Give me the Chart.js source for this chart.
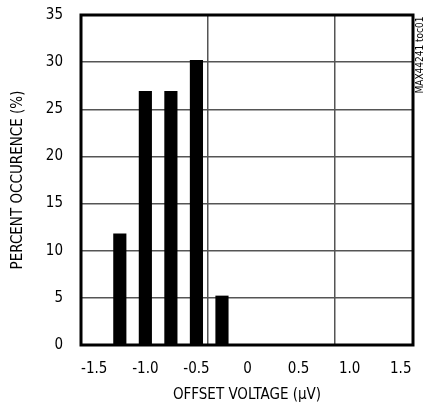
<!DOCTYPE html>
<html>
<head>
<meta charset="utf-8">
<script src="https://cdn.jsdelivr.net/npm/chart.js@4.4.0/dist/chart.umd.min.js"></script>
<style>
  html, body { margin: 0; padding: 0; background: #fff; }
  #wrap { width: 425px; height: 408px; }
</style>
</head>
<body>
<div id="wrap"><canvas id="c" width="425" height="408"></canvas></div>
<script>
// Data
const binCenters = [-1.25, -1.0, -0.75, -0.5, -0.25];          // offset voltage (µV)
const percentOccurrence = [11.8, 26.9, 26.9, 30.2, 5.2];       // percent
const xTickValues = [-1.5, -1.0, -0.5, 0, 0.5, 1.0, 1.5];
const xTickLabels = ['-1.5', '-1.0', '-0.5', '0', '0.5', '1.0', '1.5'];
const yTickValues = [0, 5, 10, 15, 20, 25, 30, 35];

const FONT = "'Liberation Sans Narrow', 'DejaVu Sans Condensed', 'Liberation Sans', sans-serif";
const GRID = '#555555';

const frame = {
  id: 'frame',
  afterDatasetsDraw(chart) {
    const { ctx, chartArea: a } = chart;
    ctx.save();
    ctx.strokeStyle = '#000';
    ctx.lineWidth = 3;
    ctx.strokeRect(a.left, a.top, a.right - a.left, a.bottom - a.top);
    ctx.restore();
  },
  afterDraw(chart) {
    const { ctx } = chart;
    ctx.save();
    ctx.translate(420, 55);
    ctx.rotate(-Math.PI / 2);
    ctx.font = "10px " + FONT;
    ctx.fillStyle = '#000';
    ctx.textAlign = 'center';
    ctx.textBaseline = 'middle';
    ctx.fillText('MAX44241 toc01', 0, 0);
    ctx.restore();
  }
};

new Chart(document.getElementById('c'), {
  type: 'bar',
  data: {
    datasets: [{
      data: binCenters.map((x, i) => ({ x: x, y: percentOccurrence[i] })),
      backgroundColor: '#000',
      borderWidth: 0,
      barThickness: 12.5
    }]
  },
  plugins: [frame],
  options: {
    responsive: false,
    animation: false,
    layout: { padding: { left: 9, right: 12, top: 15, bottom: 4 } },
    plugins: { legend: { display: false }, tooltip: { enabled: false } },
    scales: {
      x: {
        type: 'linear',
        offset: false,
        min: -1.63,
        max: 1.62,
        afterBuildTicks: s => { s.ticks = xTickValues.map(v => ({ value: v })); },
        afterFit: s => { s.height = 59; s.paddingLeft = 0; s.paddingRight = 0; },
        ticks: {
          color: '#000',
          font: { family: FONT, size: 15 },
          padding: 15,
          maxRotation: 0,
          autoSkip: false,
          callback: (v, i) => xTickLabels[i]
        },
        grid: { display: false, drawTicks: false, offset: false },
        border: { display: false },
        title: {
          display: true,
          text: 'OFFSET VOLTAGE (µV)',
          color: '#000',
          font: { family: FONT, size: 15 },
          padding: 0
        }
      },
      xg: {
        type: 'linear',
        position: 'top',
        offset: false,
        min: 0,
        max: 332 / 127,
        afterBuildTicks: s => { s.ticks = [{ value: 1 }, { value: 2 }]; },
        afterFit: s => { s.height = 0; s.paddingLeft = 0; s.paddingRight = 0; },
        ticks: { display: false },
        grid: { color: GRID, lineWidth: 1.5, drawTicks: false, offset: false },
        border: { display: false }
      },
      y: {
        min: 0,
        max: 35,
        afterBuildTicks: s => { s.ticks = yTickValues.map(v => ({ value: v })); },
        afterFit: s => { s.width = 72; s.paddingTop = 0; s.paddingBottom = 0; },
        ticks: {
          color: '#000',
          font: { family: FONT, size: 15 },
          padding: 18
        },
        grid: { color: GRID, lineWidth: 1.5, drawTicks: false },
        border: { display: false },
        title: {
          display: true,
          text: 'PERCENT OCCURENCE (%)',
          color: '#000',
          font: { family: FONT, size: 15 },
          padding: 0
        }
      }
    }
  }
});
</script>
</body>
</html>
